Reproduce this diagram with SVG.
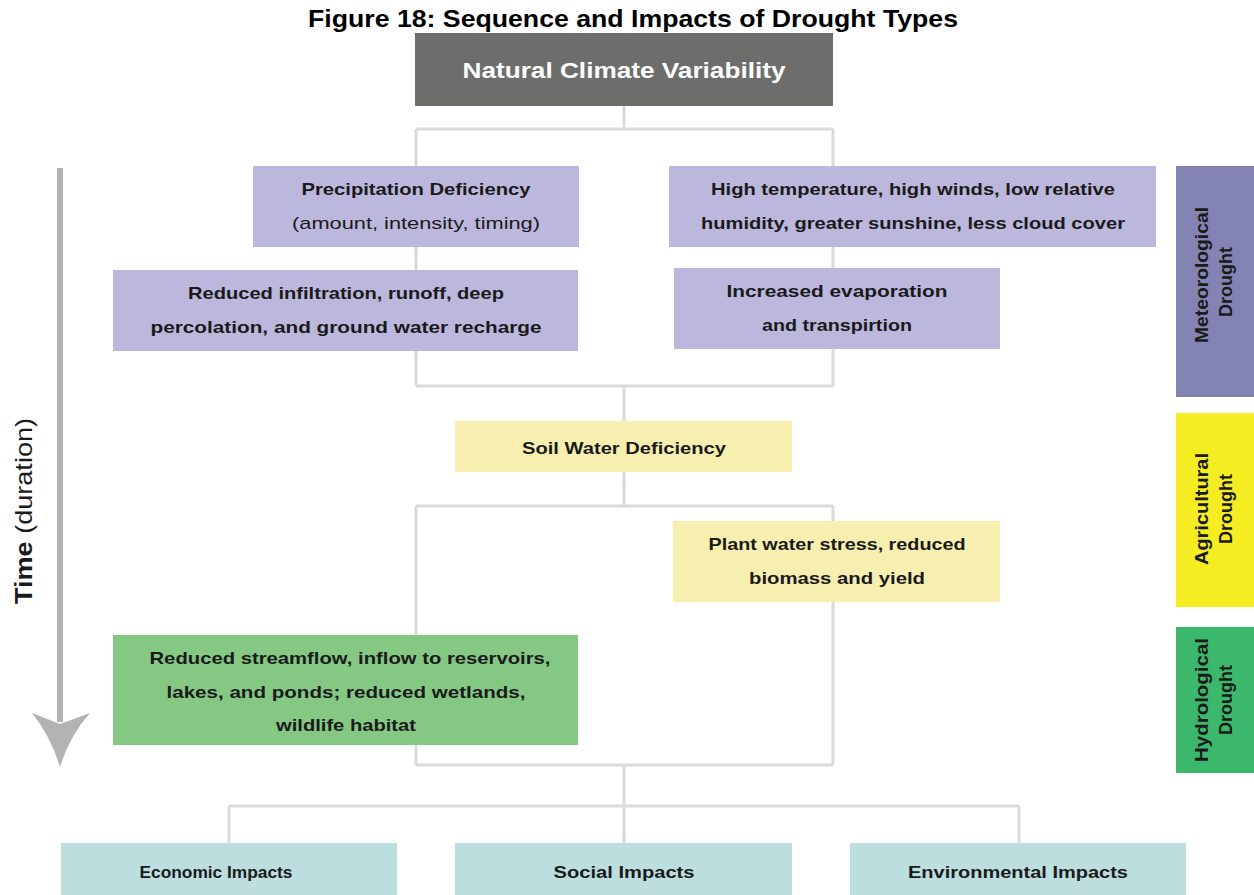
<svg xmlns="http://www.w3.org/2000/svg" width="1254" height="895" viewBox="0 0 1254 895">
<style>
.t{font-family:"Liberation Sans",Arial,sans-serif;fill:#1a1a1a;text-anchor:middle}
.b{font-weight:bold;font-size:17px}
.n{font-weight:normal;font-size:17px}
.side{font-weight:bold;font-size:18px}
.con{fill:none;stroke:#dadada;stroke-width:3}
.purple{fill:#bcb7dc}
.yellow{fill:#f7efb0}
.green{fill:#84c884}
.imp{fill:#bcdedf}
</style>
<rect width="1254" height="895" fill="#ffffff"/>
<text class="t" x="633" y="27" style="font-size:24px;font-weight:bold;fill:#000" textLength="650" lengthAdjust="spacingAndGlyphs">Figure 18: Sequence and Impacts of Drought Types</text>

<g id="connectors">
<path class="con" d="M624,106 V129 M416,129 H833 M416,129 V386 M833,129 V386 M416,386 H833 M624,386 V421"/>
<path class="con" d="M624,472 V506 M416,506 H833 M416,506 V765 M833,506 V765 M416,765 H833 M624,765 V806"/>
<path class="con" d="M229,806 H1019 M229,806 V843 M624,806 V843 M1019,806 V843"/>
</g>

<g id="time-arrow">
<line x1="60" y1="168" x2="60" y2="722" stroke="#b3b3b3" stroke-width="6"/>
<path d="M32,713 L60,724 L90,713 Q70,735 60,767 Q50,735 32,713 Z" fill="#b3b3b3"/>
<text class="t" transform="translate(32,511) rotate(-90)" style="font-size:24px" textLength="186" lengthAdjust="spacingAndGlyphs"><tspan font-weight="bold">Time</tspan> (duration)</text>
</g>

<g id="natural">
<rect x="415" y="33" width="418" height="73" fill="#6d6e6c"/>
<text class="t" x="624" y="78" style="font-size:22px;font-weight:bold;fill:#ffffff" textLength="323" lengthAdjust="spacingAndGlyphs">Natural Climate Variability</text>
</g>

<g id="precip">
<rect class="purple" x="253" y="166" width="326" height="81"/>
<text class="t b" x="416" y="195" textLength="229" lengthAdjust="spacingAndGlyphs">Precipitation Deficiency</text>
<text class="t n" x="416" y="229" textLength="248" lengthAdjust="spacingAndGlyphs">(amount, intensity, timing)</text>
</g>

<g id="hightemp">
<rect class="purple" x="669" y="166" width="487" height="81"/>
<text class="t b" x="913" y="195" textLength="404" lengthAdjust="spacingAndGlyphs">High temperature, high winds, low relative</text>
<text class="t b" x="913" y="229" textLength="424" lengthAdjust="spacingAndGlyphs">humidity, greater sunshine, less cloud cover</text>
</g>

<g id="infiltration">
<rect class="purple" x="113" y="270" width="465" height="81"/>
<text class="t b" x="346" y="299" textLength="316" lengthAdjust="spacingAndGlyphs">Reduced infiltration, runoff, deep</text>
<text class="t b" x="346" y="333" textLength="391" lengthAdjust="spacingAndGlyphs">percolation, and ground water recharge</text>
</g>

<g id="evaporation">
<rect class="purple" x="674" y="268" width="326" height="81"/>
<text class="t b" x="837" y="297" textLength="221" lengthAdjust="spacingAndGlyphs">Increased evaporation</text>
<text class="t b" x="837" y="331" textLength="150" lengthAdjust="spacingAndGlyphs">and transpirtion</text>
</g>

<g id="soil">
<rect class="yellow" x="455" y="421" width="337" height="51"/>
<text class="t b" x="624" y="454" textLength="204" lengthAdjust="spacingAndGlyphs">Soil Water Deficiency</text>
</g>

<g id="plant">
<rect class="yellow" x="673" y="521" width="327" height="81"/>
<text class="t b" x="837" y="550" textLength="257" lengthAdjust="spacingAndGlyphs">Plant water stress, reduced</text>
<text class="t b" x="837" y="584" textLength="176" lengthAdjust="spacingAndGlyphs">biomass and yield</text>
</g>

<g id="streamflow">
<rect class="green" x="113" y="635" width="465" height="110"/>
<text class="t b" x="350" y="664" textLength="401" lengthAdjust="spacingAndGlyphs">Reduced streamflow, inflow to reservoirs,</text>
<text class="t b" x="346" y="698" textLength="359" lengthAdjust="spacingAndGlyphs">lakes, and ponds; reduced wetlands,</text>
<text class="t b" x="346" y="731" textLength="140" lengthAdjust="spacingAndGlyphs">wildlife habitat</text>
</g>

<g id="economic">
<rect class="imp" x="61" y="843" width="336" height="52"/>
<text class="t b" x="216" y="878" textLength="153" lengthAdjust="spacingAndGlyphs">Economic Impacts</text>
</g>
<g id="social">
<rect class="imp" x="455" y="843" width="337" height="52"/>
<text class="t b" x="624" y="878" textLength="141" lengthAdjust="spacingAndGlyphs">Social Impacts</text>
</g>
<g id="environmental">
<rect class="imp" x="850" y="843" width="336" height="52"/>
<text class="t b" x="1018" y="878" textLength="220" lengthAdjust="spacingAndGlyphs">Environmental Impacts</text>
</g>

<g id="meteorological">
<rect x="1176" y="166" width="78" height="231" fill="#8484b4"/>
<text class="t side" transform="translate(1208,275) rotate(-90)" textLength="136" lengthAdjust="spacingAndGlyphs">Meteorological</text>
<text class="t side" transform="translate(1232,282) rotate(-90)" textLength="70" lengthAdjust="spacingAndGlyphs">Drought</text>
</g>
<g id="agricultural">
<rect x="1176" y="413" width="78" height="194" fill="#f5ed22"/>
<text class="t side" transform="translate(1208,509) rotate(-90)" textLength="112" lengthAdjust="spacingAndGlyphs">Agricultural</text>
<text class="t side" transform="translate(1232,509) rotate(-90)" textLength="70" lengthAdjust="spacingAndGlyphs">Drought</text>
</g>
<g id="hydrological">
<rect x="1176" y="627" width="78" height="146" fill="#3cb86c"/>
<text class="t side" transform="translate(1208,700) rotate(-90)" textLength="124" lengthAdjust="spacingAndGlyphs">Hydrological</text>
<text class="t side" transform="translate(1232,700) rotate(-90)" textLength="70" lengthAdjust="spacingAndGlyphs">Drought</text>
</g>
</svg>
